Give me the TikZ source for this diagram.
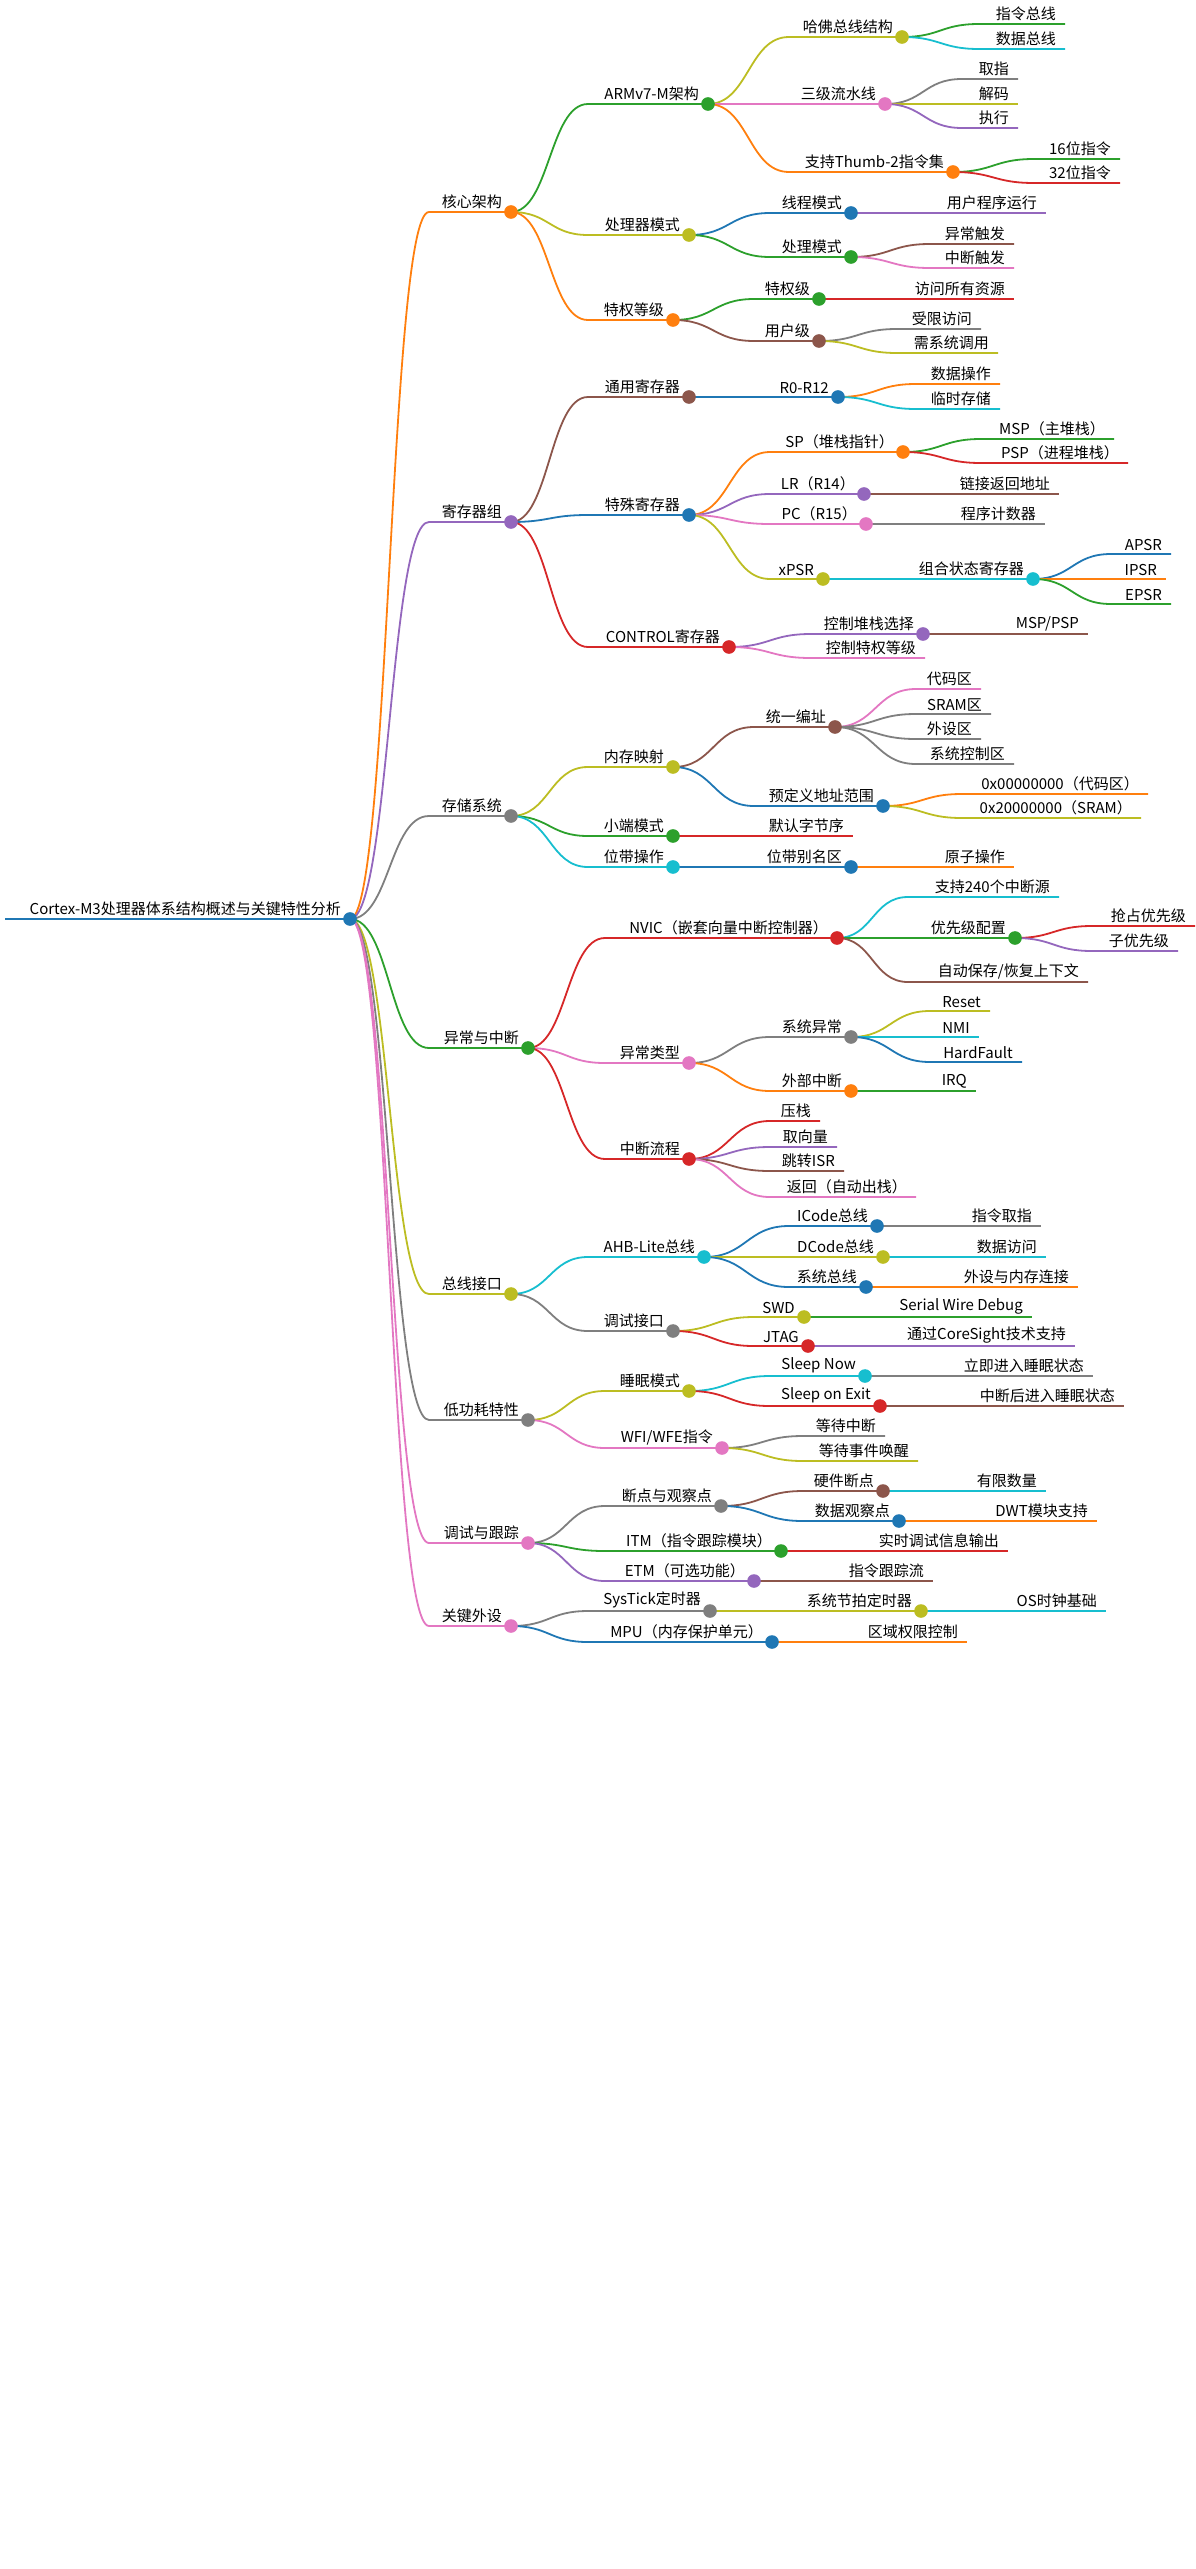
\documentclass[tikz,border=0pt]{standalone}
\usepackage{fontspec}
\setmainfont{Noto Sans CJK SC}
\usetikzlibrary{calc}
\definecolor{cO}{HTML}{FF7F0E}\definecolor{cG}{HTML}{2CA02C}\definecolor{cR}{HTML}{D62728}
\definecolor{cP}{HTML}{9467BD}\definecolor{cB}{HTML}{8C564B}\definecolor{cK}{HTML}{E377C2}
\definecolor{cY}{HTML}{7F7F7F}\definecolor{cL}{HTML}{BCBD22}\definecolor{cC}{HTML}{17BECF}
\definecolor{cU}{HTML}{1F77B4}
\tikzset{lbl/.style={anchor=south east,inner sep=0pt,font=\fontsize{15}{16}\selectfont,text=black},
 br/.style={line width=1.8pt}, ci/.style={line width=1.6pt,fill=white}}
\newcommand\nd[7]{%
 \coordinate (#1s) at (#3,#5); \coordinate (#1) at (#4,#5);
 \coordinate (#1m) at ($(#2)!.5!(#1s)$);
 \draw[br,#6] (#2) .. controls (#1m |- #2) and (#1m |- #1s) .. (#1s) -- (#1);
 \node[lbl] (#1t) at ($(#1)+(-9,-3)$) {#7};}
\newcommand\ci[2]{\draw[ci,#2] (#1) circle (6);}
\begin{document}
\begin{tikzpicture}[x=1pt,y=-1pt]
\useasboundingbox (0,0) rectangle (1196,2569);
\coordinate (root) at (350,919);
\draw[line width=2.5pt,cU] (5,919) -- (root);
\node[lbl] (roott) at (341,916) {Cortex-M3处理器体系结构概述与关键特性分析};
% level1
\nd{a}{root}{429}{511}{212}{cO}{核心架构}
\nd{b}{root}{429}{511}{522}{cP}{寄存器组}
\nd{c}{root}{429}{511}{816}{cY}{存储系统}
\nd{d}{root}{429}{528}{1048}{cG}{异常与中断}
\nd{e}{root}{429}{511}{1294}{cL}{总线接口}
\nd{f}{root}{429}{528}{1420}{cY}{低功耗特性}
\nd{g}{root}{429}{528}{1543}{cK}{调试与跟踪}
\nd{h}{root}{429}{511}{1626}{cK}{关键外设}
% core
\nd{a1}{a}{588}{708}{104}{cG}{ARMv7-M架构}
\nd{a2}{a}{588}{689}{235}{cL}{处理器模式}
\nd{a3}{a}{588}{673}{320}{cO}{特权等级}
\nd{a11}{a1}{789}{902}{37}{cL}{哈佛总线结构}
\nd{a111}{a11}{979}{1065}{24}{cG}{指令总线}
\nd{a112}{a11}{979}{1065}{49}{cC}{数据总线}
\nd{a12}{a1}{789}{885}{104}{cK}{三级流水线}
\nd{a121}{a12}{962}{1018}{79}{cY}{取指}
\nd{a122}{a12}{962}{1018}{104}{cL}{解码}
\nd{a123}{a12}{962}{1018}{128}{cP}{执行}
\nd{a13}{a1}{789}{953}{172}{cO}{支持Thumb-2指令集}
\nd{a131}{a13}{1034}{1120}{159}{cG}{16位指令}
\nd{a132}{a13}{1034}{1120}{183}{cR}{32位指令}
\nd{a21}{a2}{770}{851}{213}{cU}{线程模式}
\nd{a211}{a21}{930}{1046}{213}{cP}{用户程序运行}
\nd{a22}{a2}{770}{851}{257}{cG}{处理模式}
\nd{a221}{a22}{930}{1014}{244}{cB}{异常触发}
\nd{a222}{a22}{930}{1014}{268}{cK}{中断触发}
\nd{a31}{a3}{754}{819}{299}{cG}{特权级}
\nd{a311}{a31}{897}{1014}{299}{cR}{访问所有资源}
\nd{a32}{a3}{754}{819}{341}{cB}{用户级}
\nd{a321}{a32}{897}{981}{329}{cY}{受限访问}
\nd{a322}{a32}{897}{998}{353}{cL}{需系统调用}
% registers
\nd{b1}{b}{588}{689}{397}{cB}{通用寄存器}
\nd{b2}{b}{588}{689}{515}{cU}{特殊寄存器}
\nd{b3}{b}{588}{729}{647}{cR}{CONTROL寄存器}
\nd{b11}{b1}{770}{838}{397}{cU}{R0-R12}
\nd{b111}{b11}{916}{1000}{384}{cO}{数据操作}
\nd{b112}{b11}{916}{1000}{409}{cC}{临时存储}
\nd{b21}{b2}{770}{903}{452}{cO}{SP（堆栈指针）}
\nd{b211}{b21}{981}{1114}{439}{cG}{MSP（主堆栈）}
\nd{b212}{b21}{981}{1128}{463}{cR}{PSP（进程堆栈）}
\nd{b22}{b2}{770}{864}{494}{cP}{LR（R14）}
\nd{b221}{b22}{943}{1059}{494}{cB}{链接返回地址}
\nd{b23}{b2}{770}{866}{524}{cK}{PC（R15）}
\nd{b231}{b23}{943}{1045}{524}{cY}{程序计数器}
\nd{b24}{b2}{770}{823}{579}{cL}{xPSR}
\nd{b241}{b24}{903}{1033}{579}{cC}{组合状态寄存器}
\nd{b2411}{b241}{1111}{1171}{554}{cU}{APSR}
\nd{b2412}{b241}{1111}{1166}{579}{cO}{IPSR}
\nd{b2413}{b241}{1111}{1171}{604}{cG}{EPSR}
\nd{b31}{b3}{811}{923}{634}{cP}{控制堆栈选择}
\nd{b311}{b31}{992}{1088}{634}{cB}{MSP/PSP}
\nd{b32}{b3}{811}{925}{658}{cK}{控制特权等级}
% memory
\nd{c1}{c}{588}{673}{767}{cL}{内存映射}
\nd{c2}{c}{588}{673}{836}{cG}{小端模式}
\nd{c3}{c}{588}{673}{867}{cC}{位带操作}
\nd{c11}{c1}{754}{835}{727}{cB}{统一编址}
\nd{c111}{c11}{916}{981}{689}{cK}{代码区}
\nd{c112}{c11}{916}{991}{714}{cY}{SRAM区}
\nd{c113}{c11}{916}{981}{739}{cY}{外设区}
\nd{c114}{c11}{916}{1014}{764}{cY}{系统控制区}
\nd{c12}{c1}{754}{883}{806}{cU}{预定义地址范围}
\nd{c121}{c12}{962}{1148}{794}{cO}{0x00000000（代码区）}
\nd{c122}{c12}{962}{1141}{818}{cL}{0x20000000（SRAM）}
\nd{c21}{c2}{754}{853}{836}{cR}{默认字节序}
\nd{c31}{c3}{754}{851}{867}{cU}{位带别名区}
\nd{c311}{c31}{930}{1014}{867}{cO}{原子操作}
% exceptions
\nd{d1}{d}{605}{837}{938}{cR}{NVIC（嵌套向量中断控制器）}
\nd{d2}{d}{605}{689}{1063}{cK}{异常类型}
\nd{d3}{d}{605}{689}{1159}{cR}{中断流程}
\nd{d11}{d1}{908}{1059}{897}{cC}{支持240个中断源}
\nd{d12}{d1}{908}{1015}{938}{cG}{优先级配置}
\nd{d121}{d12}{1092}{1195}{926}{cR}{抢占优先级}
\nd{d122}{d12}{1092}{1178}{951}{cP}{子优先级}
\nd{d13}{d1}{908}{1088}{982}{cB}{自动保存/恢复上下文}
\nd{d21}{d2}{770}{851}{1037}{cY}{系统异常}
\nd{d211}{d21}{930}{990}{1011}{cL}{Reset}
\nd{d212}{d21}{930}{979}{1037}{cC}{NMI}
\nd{d213}{d21}{930}{1022}{1062}{cU}{HardFault}
\nd{d22}{d2}{770}{851}{1091}{cO}{外部中断}
\nd{d221}{d22}{930}{976}{1091}{cG}{IRQ}
\nd{d31}{d3}{770}{820}{1121}{cR}{压栈}
\nd{d32}{d3}{770}{837}{1147}{cP}{取向量}
\nd{d33}{d3}{770}{844}{1171}{cB}{跳转ISR}
\nd{d34}{d3}{770}{916}{1197}{cK}{返回（自动出栈）}
% bus
\nd{e1}{e}{588}{704}{1257}{cC}{AHB-Lite总线}
\nd{e2}{e}{588}{673}{1331}{cY}{调试接口}
\nd{e11}{e1}{789}{877}{1226}{cU}{ICode总线}
\nd{e111}{e11}{957}{1041}{1226}{cY}{指令取指}
\nd{e12}{e1}{789}{883}{1257}{cL}{DCode总线}
\nd{e121}{e12}{957}{1046}{1257}{cC}{数据访问}
\nd{e13}{e1}{789}{866}{1287}{cU}{系统总线}
\nd{e131}{e13}{946}{1078}{1287}{cO}{外设与内存连接}
\nd{e21}{e2}{754}{804}{1317}{cL}{SWD}
\nd{e211}{e21}{884}{1032}{1317}{cG}{Serial Wire Debug}
\nd{e22}{e2}{754}{808}{1346}{cR}{JTAG}
\nd{e221}{e22}{884}{1075}{1346}{cP}{通过CoreSight技术支持}
% low power
\nd{f1}{f}{605}{689}{1391}{cL}{睡眠模式}
\nd{f2}{f}{605}{722}{1448}{cK}{WFI/WFE指令}
\nd{f11}{f1}{770}{865}{1376}{cC}{Sleep Now}
\nd{f111}{f11}{946}{1093}{1376}{cY}{立即进入睡眠状态}
\nd{f12}{f1}{770}{880}{1406}{cR}{Sleep on Exit}
\nd{f121}{f12}{960}{1124}{1406}{cB}{中断后进入睡眠状态}
\nd{f21}{f2}{803}{885}{1436}{cY}{等待中断}
\nd{f22}{f2}{803}{918}{1461}{cL}{等待事件唤醒}
% debug
\nd{g1}{g}{605}{721}{1506}{cY}{断点与观察点}
\nd{g2}{g}{605}{781}{1551}{cG}{ITM（指令跟踪模块）}
\nd{g3}{g}{605}{754}{1581}{cP}{ETM（可选功能）}
\nd{g11}{g1}{803}{883}{1491}{cB}{硬件断点}
\nd{g111}{g11}{962}{1046}{1491}{cC}{有限数量}
\nd{g12}{g1}{803}{899}{1521}{cU}{数据观察点}
\nd{g121}{g12}{979}{1097}{1521}{cO}{DWT模块支持}
\nd{g21}{g2}{859}{1008}{1551}{cR}{实时调试信息输出}
\nd{g31}{g3}{832}{933}{1581}{cB}{指令跟踪流}
% peripherals
\nd{h1}{h}{588}{710}{1611}{cY}{SysTick定时器}
\nd{h2}{h}{588}{772}{1642}{cU}{MPU（内存保护单元）}
\nd{h11}{h1}{792}{921}{1611}{cL}{系统节拍定时器}
\nd{h111}{h11}{1000}{1106}{1611}{cC}{OS时钟基础}
\nd{h21}{h2}{851}{967}{1642}{cO}{区域权限控制}
% circles
\ci{root}{cU}
\ci{a}{cO}\ci{b}{cP}\ci{c}{cY}\ci{d}{cG}\ci{e}{cL}\ci{f}{cY}\ci{g}{cK}\ci{h}{cK}
\ci{a1}{cG}\ci{a2}{cL}\ci{a3}{cO}\ci{a11}{cL}\ci{a12}{cK}\ci{a13}{cO}
\ci{a21}{cU}\ci{a22}{cG}\ci{a31}{cG}\ci{a32}{cB}
\ci{b1}{cB}\ci{b2}{cU}\ci{b3}{cR}\ci{b11}{cU}\ci{b21}{cO}\ci{b22}{cP}\ci{b23}{cK}
\ci{b24}{cL}\ci{b241}{cC}\ci{b31}{cP}
\ci{c1}{cL}\ci{c2}{cG}\ci{c3}{cC}\ci{c11}{cB}\ci{c12}{cU}\ci{c31}{cU}
\ci{d1}{cR}\ci{d2}{cK}\ci{d3}{cR}\ci{d12}{cG}\ci{d21}{cY}\ci{d22}{cO}
\ci{e1}{cC}\ci{e2}{cY}\ci{e11}{cU}\ci{e12}{cL}\ci{e13}{cU}\ci{e21}{cL}\ci{e22}{cR}
\ci{f1}{cL}\ci{f2}{cK}\ci{f11}{cC}\ci{f12}{cR}
\ci{g1}{cY}\ci{g2}{cG}\ci{g3}{cP}\ci{g11}{cB}\ci{g12}{cU}
\ci{h1}{cY}\ci{h2}{cU}\ci{h11}{cL}
\end{tikzpicture}
\end{document}
